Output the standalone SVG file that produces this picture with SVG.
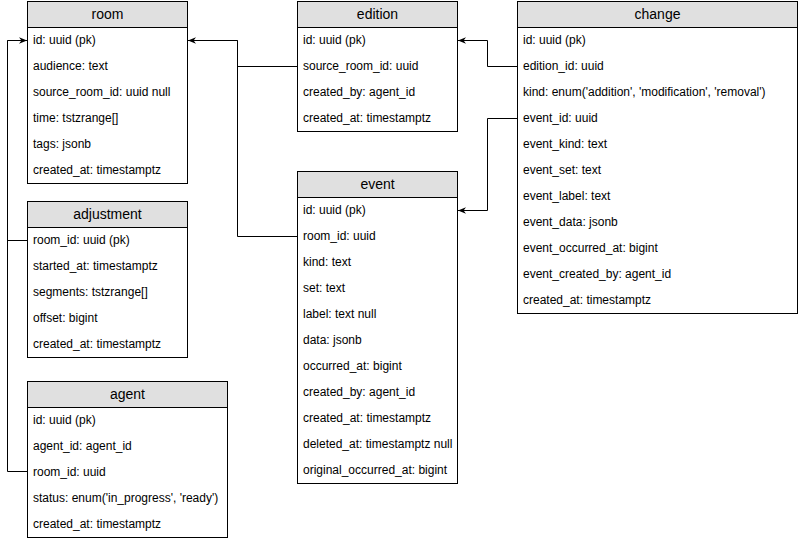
<svg xmlns="http://www.w3.org/2000/svg" width="798" height="540" viewBox="0 0 798 540">
  <style>
    .box { fill: #ffffff; stroke: #000000; stroke-width: 1; }
    .head { fill: #e0e0e0; stroke: #000000; stroke-width: 1; }
    .title { font-family: "Liberation Sans", Arial, sans-serif; font-size: 14px; fill: #000000; text-anchor: middle; }
    .row { font-family: "Liberation Sans", Arial, sans-serif; font-size: 12px; fill: #000000; }
    .link { fill: none; stroke: #000000; stroke-width: 1; }
  </style>
  <defs>
    <marker id="arrow" viewBox="0 0 10 10" refX="10" refY="5" markerWidth="8" markerHeight="8" orient="auto" markerUnits="userSpaceOnUse">
      <path d="M0,1 L10,5 L0,9 L3,5 Z" fill="#000000"/>
    </marker>
  </defs>
  <rect width="798" height="540" fill="#ffffff"/>

  <g id="connectors">
    <path class="link" d="M27.5,240.5 H7.5 V40.5 H27" marker-end="url(#arrow)"/>
    <path class="link" d="M27.5,471.5 H7.5 V40.5"/>
    <path class="link" d="M297.5,66.5 H237.5 V40.5 H188" marker-end="url(#arrow)"/>
    <path class="link" d="M297.5,236.5 H237.5 V40.5"/>
    <path class="link" d="M517.5,66.5 H487.5 V40.5 H458" marker-end="url(#arrow)"/>
    <path class="link" d="M517.5,118.5 H487.5 V210.5 H458" marker-end="url(#arrow)"/>
  </g>

  <g id="room">
    <rect class="box" x="27.5" y="1.5" width="160" height="182"/>
    <rect class="head" x="27.5" y="1.5" width="160" height="26"/>
    <text class="title" x="107.5" y="19">room</text>
    <text class="row" x="33" y="44">id: uuid (pk)</text>
    <text class="row" x="33" y="70">audience: text</text>
    <text class="row" x="33" y="96">source_room_id: uuid null</text>
    <text class="row" x="33" y="122">time: tstzrange[]</text>
    <text class="row" x="33" y="148">tags: jsonb</text>
    <text class="row" x="33" y="174">created_at: timestamptz</text>
  </g>

  <g id="edition">
    <rect class="box" x="297.5" y="1.5" width="160" height="130"/>
    <rect class="head" x="297.5" y="1.5" width="160" height="26"/>
    <text class="title" x="377.5" y="19">edition</text>
    <text class="row" x="303" y="44">id: uuid (pk)</text>
    <text class="row" x="303" y="70">source_room_id: uuid</text>
    <text class="row" x="303" y="96">created_by: agent_id</text>
    <text class="row" x="303" y="122">created_at: timestamptz</text>
  </g>

  <g id="change">
    <rect class="box" x="517.5" y="1.5" width="280" height="312"/>
    <rect class="head" x="517.5" y="1.5" width="280" height="26"/>
    <text class="title" x="657.5" y="19">change</text>
    <text class="row" x="523" y="44">id: uuid (pk)</text>
    <text class="row" x="523" y="70">edition_id: uuid</text>
    <text class="row" x="523" y="96">kind: enum('addition', 'modification', 'removal')</text>
    <text class="row" x="523" y="122">event_id: uuid</text>
    <text class="row" x="523" y="148">event_kind: text</text>
    <text class="row" x="523" y="174">event_set: text</text>
    <text class="row" x="523" y="200">event_label: text</text>
    <text class="row" x="523" y="226">event_data: jsonb</text>
    <text class="row" x="523" y="252">event_occurred_at: bigint</text>
    <text class="row" x="523" y="278">event_created_by: agent_id</text>
    <text class="row" x="523" y="304">created_at: timestamptz</text>
  </g>

  <g id="event">
    <rect class="box" x="297.5" y="171.5" width="160" height="312"/>
    <rect class="head" x="297.5" y="171.5" width="160" height="26"/>
    <text class="title" x="377.5" y="189">event</text>
    <text class="row" x="303" y="214">id: uuid (pk)</text>
    <text class="row" x="303" y="240">room_id: uuid</text>
    <text class="row" x="303" y="266">kind: text</text>
    <text class="row" x="303" y="292">set: text</text>
    <text class="row" x="303" y="318">label: text null</text>
    <text class="row" x="303" y="344">data: jsonb</text>
    <text class="row" x="303" y="370">occurred_at: bigint</text>
    <text class="row" x="303" y="396">created_by: agent_id</text>
    <text class="row" x="303" y="422">created_at: timestamptz</text>
    <text class="row" x="303" y="448">deleted_at: timestamptz null</text>
    <text class="row" x="303" y="474">original_occurred_at: bigint</text>
  </g>

  <g id="adjustment">
    <rect class="box" x="27.5" y="201.5" width="160" height="156"/>
    <rect class="head" x="27.5" y="201.5" width="160" height="26"/>
    <text class="title" x="107.5" y="219">adjustment</text>
    <text class="row" x="33" y="244">room_id: uuid (pk)</text>
    <text class="row" x="33" y="270">started_at: timestamptz</text>
    <text class="row" x="33" y="296">segments: tstzrange[]</text>
    <text class="row" x="33" y="322">offset: bigint</text>
    <text class="row" x="33" y="348">created_at: timestamptz</text>
  </g>

  <g id="agent">
    <rect class="box" x="27.5" y="381.5" width="200" height="156"/>
    <rect class="head" x="27.5" y="381.5" width="200" height="26"/>
    <text class="title" x="127.5" y="399">agent</text>
    <text class="row" x="33" y="424">id: uuid (pk)</text>
    <text class="row" x="33" y="450">agent_id: agent_id</text>
    <text class="row" x="33" y="476">room_id: uuid</text>
    <text class="row" x="33" y="502">status: enum('in_progress', 'ready')</text>
    <text class="row" x="33" y="528">created_at: timestamptz</text>
  </g>
</svg>
